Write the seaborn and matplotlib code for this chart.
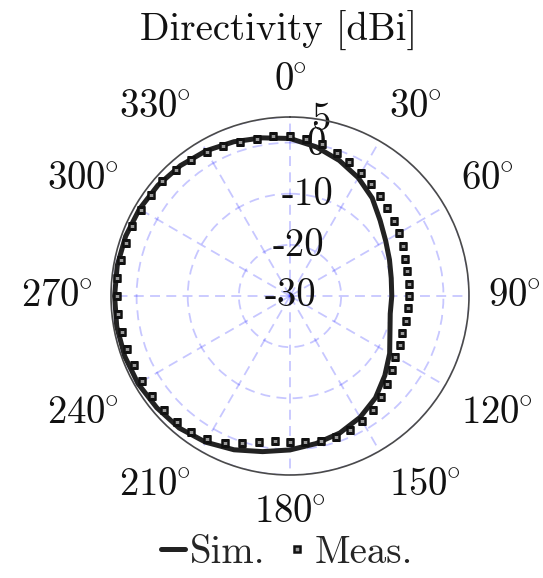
import numpy as np
import matplotlib
matplotlib.use('Agg')
import matplotlib.pyplot as plt
import seaborn as sns

# simulated directivity, every 10 deg (closed curve: 360 == 0)
sim_angles = [0, 10, 20, 30, 40, 50, 60, 70, 80, 90, 100, 110, 120, 130, 140, 150, 160, 170,
              180, 190, 200, 210, 220, 230, 240, 250, 260, 270, 280, 290, 300, 310, 320, 330,
              340, 350, 360]
sim_db = [0.8, -0.4, -1.8, -3.3, -5.0, -7.0, -8.4, -9.3, -9.9, -10.1, -10.1, -9.2, -7.5,
          -5.8, -4.0, -2.6, -1.5, -0.7, 0.1, 0.9, 2.0, 3.0, 3.7, 4.0, 4.3, 4.4, 4.4, 4.3,
          4.3, 4.2, 4.0, 3.7, 3.3, 2.8, 2.1, 1.4, 0.8]

# measured directivity, every 6 deg
meas_angles = list(range(0, 360, 6))
meas_db = [1.2, 0.8, 0.3, -0.5, -1.4, -2.2, -3.0, -3.7, -4.4, -4.9,
           -5.3, -5.9, -6.3, -6.6, -6.7, -6.7, -6.8, -6.8, -6.9, -6.5,
           -6.3, -5.4, -4.4, -3.3, -2.4, -1.7, -1.3, -1.0, -1.1, -1.3,
           -1.5, -1.4, -0.8, 0.3, 1.4, 2.3, 2.8, 3.1, 3.2, 3.3,
           3.4, 3.4, 3.5, 3.6, 3.8, 3.9, 4.0, 3.8, 3.7, 3.8,
           3.7, 3.7, 3.6, 3.2, 2.9, 2.6, 2.1, 1.7, 1.4, 1.4]

theta_ticks = [0, 30, 60, 90, 120, 150, 180, 210, 240, 270, 300, 330]
r_ticks = [-30, -20, -10, 0, 5]
r_tick_labels = ['-30', '-20', '-10', '0', '5']


def theta_align(deg):
    # matlab-like placement: labels sit outside the circle, edge towards it
    if deg % 180 == 0:
        ha = 'center'
    elif deg < 180:
        ha = 'left'
    else:
        ha = 'right'
    if deg in (90, 270):
        va = 'center'
    elif deg < 90 or deg > 270:
        va = 'bottom'
    else:
        va = 'top'
    return ha, va


sns.set_style('white')
plt.rcParams['font.family'] = ['cmr10', 'DejaVu Serif']
plt.rcParams['mathtext.fontset'] = 'cm'
fs = 28

fig = plt.figure(figsize=(5.43, 5.78), dpi=100)
ax = fig.add_axes([111 / 543, 103 / 578, 358 / 543, 358 / 578], projection='polar')
ax.set_theta_zero_location('N')
ax.set_theta_direction(-1)

sns.lineplot(x=np.deg2rad(sim_angles), y=sim_db, ax=ax, sort=False, color='#222222',
             linewidth=3.6, label='Sim.')
sns.lineplot(x=np.deg2rad(meas_angles), y=meas_db, ax=ax, sort=False, color='#111111',
             linestyle='', marker='s', markersize=5.0, markeredgewidth=1.8,
             markeredgecolor='#111111', markerfacecolor='#9a9a9a', label='Meas.')

ax.set_rlim(-30, 5)
ax.set_yticks(r_ticks)
ax.set_yticklabels(r_tick_labels)
ax.set_rlabel_position(10)
ax.set_xticks(np.deg2rad(theta_ticks))
ax.set_xticklabels([r'$%d\hspace{-0.07}^{\circ}$' % t for t in theta_ticks])
# polar adds 7pt to this pad internally
ax.tick_params(axis='x', pad=3, labelsize=fs, colors='#111111')
ax.tick_params(axis='y', labelsize=fs, colors='#111111')
for t, lbl in zip(theta_ticks, ax.get_xticklabels()):
    ha, va = theta_align(t)
    lbl.set_horizontalalignment(ha)
    lbl.set_verticalalignment(va)
for lbl in ax.get_yticklabels():
    lbl.set_horizontalalignment('center')
    lbl.set_verticalalignment('center')
ax.set_xlabel('')
ax.set_ylabel('')

ax.grid(True, color='blue', alpha=0.22, linestyle=(0, (5.5, 3.5)), linewidth=1.3)
ax.spines['polar'].set_color('#4a4a4a')
ax.spines['polar'].set_linewidth(1.2)

fig.text(279 / 543, 1 - 31 / 578, 'Directivity [dBi]', ha='center', va='center',
         fontsize=fs, color='#111111')

ax.legend(loc='center', bbox_to_anchor=(287 / 543, 1 - 553 / 578),
          bbox_transform=fig.transFigure, ncol=2, frameon=False, fontsize=fs,
          handlelength=0.6, handletextpad=0.15, columnspacing=0.5, numpoints=1,
          borderpad=0, borderaxespad=0)

fig.savefig('out.png', dpi=100)
